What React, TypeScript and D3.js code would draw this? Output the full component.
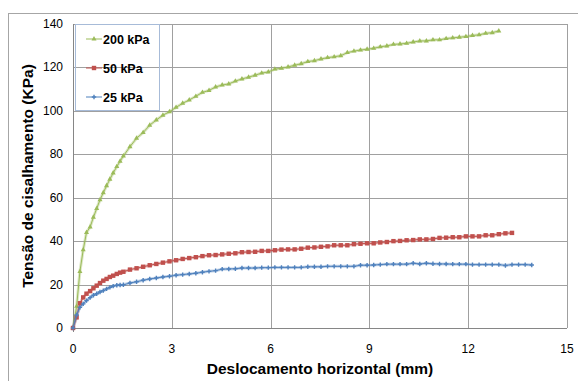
import React, { useEffect, useRef } from 'react';
import * as d3 from 'd3';

// deslocamento horizontal (mm) de cada leitura
const displacement = [
  0, 0.11, 0.21, 0.31, 0.41, 0.52, 0.62, 0.72, 0.82, 0.92, 1.02, 1.12, 1.22, 1.33, 1.43, 1.53,
  1.73, 1.93, 2.13, 2.33, 2.53, 2.73, 2.93, 3.13, 3.33, 3.53, 3.73, 3.93,
  4.13, 4.33, 4.53, 4.73, 4.93, 5.13, 5.33, 5.53, 5.73, 5.93,
  6.13, 6.33, 6.53, 6.73, 6.93, 7.13, 7.33, 7.53, 7.73, 7.93,
  8.13, 8.33, 8.53, 8.73, 8.93, 9.13, 9.33, 9.53, 9.73, 9.93,
  10.13, 10.33, 10.53, 10.73, 10.93, 11.13, 11.33, 11.53, 11.73, 11.93,
  12.13, 12.33, 12.53, 12.73, 12.93, 13.13, 13.33, 13.53, 13.73, 13.93,
];

const tau200 = [
  0, 10, 26, 36, 44, 46.5, 51, 55, 59, 62.3, 65.5, 68.5, 71.4, 74.3, 76.8, 79.2,
  83.5, 87.4, 90, 93.4, 95.8, 98, 99.6, 101.6, 103.5, 105, 106.7, 108.5,
  109.4, 111, 111.9, 112.4, 113.7, 114.7, 115.5, 116.4, 117.4, 117.9,
  119.2, 119.6, 120.2, 121, 121.7, 122.7, 123.1, 123.9, 124.5, 124.9,
  125.4, 126.8, 127.5, 128, 128.4, 128.8, 129.5, 129.9, 130.6, 130.8,
  131.1, 131.7, 132.2, 132.2, 132.7, 132.7, 133.3, 133.6, 133.9, 134.2,
  134.7, 135, 135.7, 136, 136.8,
];

const tau50 = [
  0, 4.9, 11.4, 14.1, 15.8, 17, 18.3, 19.5, 20.7, 21.8, 22.6, 23.5, 24.1, 24.9, 25.5, 25.9,
  26.9, 27.5, 28.2, 28.9, 29.5, 30.1, 30.7, 31.2, 31.8, 32.2, 32.6, 33.1,
  33.5, 33.6, 33.9, 34.2, 34.4, 34.9, 35, 35.1, 35.5, 35.5,
  35.8, 36.1, 36.2, 36.2, 36.5, 37, 37.1, 37.4, 37.6, 38.1,
  38.1, 38.1, 38.6, 38.8, 39, 39, 39.4, 39.6, 40, 40.1,
  40.4, 40.5, 40.8, 40.8, 41, 41.5, 41.6, 41.8, 41.8, 42.2,
  42.2, 42.2, 42.7, 42.7, 43.2, 43.6, 43.8,
];

const tau25 = [
  0, 6, 9.5, 11.1, 12.6, 14, 15.1, 15.8, 16.6, 17.2, 18, 18.7, 19.3, 19.7, 19.8, 19.9,
  20.7, 21.3, 22, 22.6, 23, 23.5, 23.8, 24.3, 24.6, 24.9, 25.2, 25.7,
  26.1, 26.4, 27.1, 27.2, 27.3, 27.6, 27.6, 27.6, 27.8, 27.8,
  27.9, 27.9, 27.9, 27.9, 27.9, 28.2, 28.2, 28.2, 28.4, 28.4,
  28.4, 28.4, 28.4, 28.9, 28.9, 29, 29.2, 29.4, 29.4, 29.4,
  29.4, 29.8, 29.5, 29.8, 29.6, 29.5, 29.5, 29.4, 29.4, 29.4,
  29.2, 29.2, 29.2, 29.2, 29.2, 28.8, 29.2, 29.2, 29.2, 29.0,
];

const seriesNames = ['200 kPa', '50 kPa', '25 kPa'];
const xTicks = [0, 3, 6, 9, 12, 15];
const yTicks = [0, 20, 40, 60, 80, 100, 120, 140];

export default () => {
  const svgRef = useRef<SVGSVGElement>(null);

  function loadGraph(elm: SVGSVGElement) {
    const width = 578, height = 381;
    const left = 73, right = 567, top = 24, bottom = 328;
    const font = 'Liberation Sans, Arial, sans-serif';

    const svg = d3.select(elm);
    svg.selectAll('*').remove();
    svg.attr('width', width).attr('height', height);

    const x = d3.scaleLinear().domain([0, 15]).range([left, right]);
    const y = d3.scaleLinear().domain([0, 140]).range([bottom, top]);

    // moldura externa
    svg.append('rect')
      .attr('x', 8.5).attr('y', 13.5)
      .attr('width', 620).attr('height', 420)
      .attr('fill', 'white')
      .attr('stroke', '#a6a6a6');

    // grade
    svg.append('g').selectAll('line')
      .data(yTicks.slice(1))
      .enter().append('line')
      .attr('x1', left).attr('x2', right)
      .attr('y1', d => Math.round(y(d)) + 0.5).attr('y2', d => Math.round(y(d)) + 0.5)
      .attr('stroke', '#a0a0a0');

    svg.append('g').selectAll('line')
      .data(xTicks.slice(1))
      .enter().append('line')
      .attr('y1', top).attr('y2', bottom)
      .attr('x1', d => Math.round(x(d)) + 0.5).attr('x2', d => Math.round(x(d)) + 0.5)
      .attr('stroke', '#a0a0a0');

    // eixos
    svg.append('line')
      .attr('x1', left).attr('x2', right)
      .attr('y1', bottom + 0.5).attr('y2', bottom + 0.5)
      .attr('stroke', '#868686');
    svg.append('line')
      .attr('x1', left + 0.5).attr('x2', left + 0.5)
      .attr('y1', top).attr('y2', bottom + 4)
      .attr('stroke', '#868686');

    svg.append('g').selectAll('text')
      .data(yTicks)
      .enter().append('text')
      .attr('x', 63)
      .attr('y', d => y(d) + 4)
      .attr('text-anchor', 'end')
      .attr('font-family', font)
      .attr('font-size', '12px')
      .text(d => d);

    svg.append('g').selectAll('text')
      .data(xTicks)
      .enter().append('text')
      .attr('x', d => x(d))
      .attr('y', 353)
      .attr('text-anchor', 'middle')
      .attr('font-family', font)
      .attr('font-size', '12px')
      .text(d => d);

    svg.append('text')
      .text('Deslocamento horizontal (mm)')
      .attr('x', 320).attr('y', 374)
      .attr('text-anchor', 'middle')
      .attr('font-family', font)
      .attr('font-weight', 'bold')
      .attr('font-size', '15.5px');

    svg.append('text')
      .text('Tensão de cisalhamento (KPa)')
      .attr('transform', 'translate(33,176) rotate(-90)')
      .attr('text-anchor', 'middle')
      .attr('font-family', font)
      .attr('font-weight', 'bold')
      .attr('font-size', '15.5px');

    const colors = ['#9bbb59', '#c0504d', '#4f81bd'];
    const values = [tau200, tau50, tau25];

    const line = d3.line<[number, number]>()
      .x(d => x(d[0]))
      .y(d => y(d[1]));

    const drawMarker = (g: any, kind: number, cx: number, cy: number, color: string) => {
      if (kind === 0) {
        g.append('path')
          .attr('d', d3.symbol().type(d3.symbolTriangle).size(11)())
          .attr('transform', `translate(${cx},${cy})`)
          .attr('fill', color);
      } else if (kind === 1) {
        g.append('rect')
          .attr('x', cx - 2.2).attr('y', cy - 2.2)
          .attr('width', 4.4).attr('height', 4.4)
          .attr('fill', color);
      } else {
        g.append('path')
          .attr('d', `M${cx - 2.2},${cy}H${cx + 2.2}M${cx},${cy - 2.2}V${cy + 2.2}`)
          .attr('stroke', color)
          .attr('stroke-width', 1.4);
      }
    };

    values.forEach((vals, i) => {
      const pts: [number, number][] = vals.map((v, j) => [displacement[j], v]);
      const g = svg.append('g');
      g.append('path')
        .datum(pts)
        .attr('d', line)
        .attr('fill', 'none')
        .attr('stroke', colors[i])
        .attr('stroke-opacity', 0.35)
        .attr('stroke-width', 3);
      g.append('path')
        .datum(pts)
        .attr('d', line)
        .attr('fill', 'none')
        .attr('stroke', colors[i])
        .attr('stroke-width', 1);
      pts.forEach(p => drawMarker(g, i, x(p[0]), y(p[1]), colors[i]));
    });

    // legenda
    svg.append('rect')
      .attr('x', 75.5).attr('y', 24.5)
      .attr('width', 84).attr('height', 86)
      .attr('fill', 'none')
      .attr('stroke', '#a7bbd8');

    const legendY = [39, 68, 97];
    seriesNames.forEach((name, i) => {
      const g = svg.append('g');
      g.append('line')
        .attr('x1', 86).attr('x2', 102)
        .attr('y1', legendY[i]).attr('y2', legendY[i])
        .attr('stroke', colors[i]);
      drawMarker(g, i, 94, legendY[i], colors[i]);
      g.append('text')
        .text(name)
        .attr('x', 103).attr('y', legendY[i] + 4.5)
        .attr('font-family', font)
        .attr('font-weight', 'bold')
        .attr('font-size', '12.5px');
    });
  }

  useEffect(() => {
    if (svgRef.current) {
      loadGraph(svgRef.current);
    }
  }, [svgRef.current]);

  return <svg ref={svgRef} style={{ position: 'absolute', left: 0, top: 0, display: 'block' }}></svg>;
}
